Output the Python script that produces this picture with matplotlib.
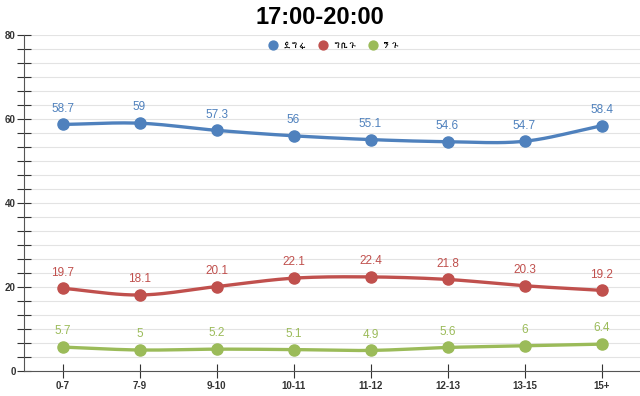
import numpy as np
import matplotlib
matplotlib.use("Agg")
import matplotlib.pyplot as plt
from matplotlib.ticker import MultipleLocator
from matplotlib import font_manager
from matplotlib.ft2font import FT2Font

categories = ["0-7", "7-9", "9-10", "10-11", "11-12", "12-13", "13-15", "15+"]
series_names = ["ደግፋ", "ግቢጉ", "ንጉ"]
blue_vals = [58.7, 59, 57.3, 56, 55.1, 54.6, 54.7, 58.4]
red_vals = [19.7, 18.1, 20.1, 22.1, 22.4, 21.8, 20.3, 19.2]
green_vals = [5.7, 5, 5.2, 5.1, 4.9, 5.6, 6, 6.4]
title = "17:00-20:00"

colors = ["#4F81BD", "#C0504D", "#9BBB59"]

# find any installed family that has Ethiopic glyphs
eth_fams = []
for fe in font_manager.fontManager.ttflist:
    try:
        f = FT2Font(fe.fname)
        if f.get_char_index(ord("ደ")) and fe.name not in eth_fams:
            eth_fams.append(fe.name)
    except Exception:
        pass

def smooth(xs, ys, n=20):
    xs = np.asarray(xs, float); ys = np.asarray(ys, float)
    px = np.concatenate([[2*xs[0]-xs[1]], xs, [2*xs[-1]-xs[-2]]])
    py = np.concatenate([[2*ys[0]-ys[1]], ys, [2*ys[-1]-ys[-2]]])
    ox, oy = [], []
    for i in range(1, len(px)-2):
        t = np.linspace(0, 1, n, endpoint=False)
        for arr, out in ((px, ox), (py, oy)):
            p0, p1, p2, p3 = arr[i-1], arr[i], arr[i+1], arr[i+2]
            out.extend(0.5*((2*p1) + (-p0+p2)*t + (2*p0-5*p1+4*p2-p3)*t**2 + (-p0+3*p1-3*p2+p3)*t**3))
    ox.append(xs[-1]); oy.append(ys[-1])
    return np.array(ox), np.array(oy)

plt.rcParams['font.family'] = ['Liberation Sans', 'DejaVu Sans'] + eth_fams
fig = plt.figure(figsize=(6.4, 3.96), dpi=100)
ax = fig.add_axes([24/640, 25/396, 1-24/640, 1-25/396-35/396])

x = np.arange(len(categories))
for name, vals, c in zip(series_names, [blue_vals, red_vals, green_vals], colors):
    sx, sy = smooth(x, vals)
    ax.plot(sx, sy, color=c, lw=2.4, zorder=3)
    ax.plot(x, vals, 'o', color=c, ms=8, zorder=4, label=name)
    for xi, v in zip(x, vals):
        ax.annotate(f"{v:g}", (xi, v), xytext=(0, 7), textcoords='offset points',
                    ha='center', va='bottom', color=c, fontsize=8.5)

ax.set_xlim(-0.5, 7.5)
ax.set_ylim(0, 80)
ax.set_xticks(x)
ax.set_xticklabels(categories, fontsize=7, fontweight='bold', color='#222222')
ax.yaxis.set_major_locator(MultipleLocator(20))
ax.yaxis.set_minor_locator(MultipleLocator(20/6))
ax.tick_params(axis='y', which='both', direction='inout', length=10, width=0.8, labelsize=7, colors='#333333', pad=1)
ax.tick_params(axis='x', direction='inout', length=10, width=0.8, pad=2, colors='#333333')
for t in ax.get_yticklabels():
    t.set_fontweight('bold')
ax.grid(True, which='both', axis='y', color='#e3e3e3', lw=0.8, zorder=0)
for s in ['top', 'right']:
    ax.spines[s].set_visible(False)
ax.spines['left'].set_color('#555555')
ax.spines['bottom'].set_color('#555555')

leg = ax.legend(loc='upper center', bbox_to_anchor=(0.5, 1.0), ncol=3, frameon=False,
                fontsize=6, handletextpad=0.2, columnspacing=0.8, markerscale=0.8)
fig.text(0.5, 1-17/396, title, ha='center', va='center', fontsize=17, fontweight='bold')
fig.savefig("out.png", dpi=100)
